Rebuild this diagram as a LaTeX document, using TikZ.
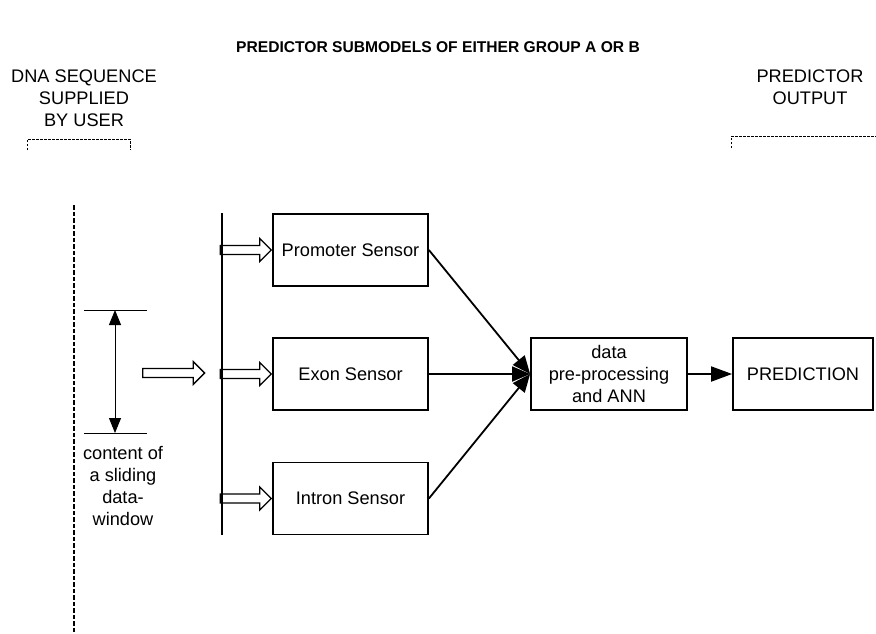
\documentclass[tikz,border=0pt]{standalone}
\usepackage{fontspec}
\setmainfont{Liberation Sans}
\usetikzlibrary{arrows.meta,shapes.arrows}

\begin{document}
\begin{tikzpicture}[x=1pt,y=-1pt,font=\fontsize{18.2}{22}\selectfont]
    \tikzstyle{block}=[draw,line width=1.8pt,minimum height=72pt,align=center,inner sep=0pt];
    \tikzstyle{label}=[align=center,inner sep=0pt];
    \tikzstyle{hollow}=[draw,line width=1.3pt,shape=single arrow,inner xsep=0pt,inner ysep=3.8pt,single arrow head extend=7pt,single arrow head indent=0pt];
    \tikzstyle{feed}=[line width=1.8pt,-{Triangle[length=18pt,width=15pt]}];
    \tikzstyle{bracket}=[line width=0.8pt,dash pattern=on 2.5pt off 1.5pt];
    \useasboundingbox (0,0) rectangle (876,633);

    \node[font=\fontsize{15.6}{19}\selectfont\bfseries] at (438,47) (title) {PREDICTOR SUBMODELS OF EITHER GROUP A OR B};
    \node[label] at (84,98) (input) {DNA SEQUENCE\\SUPPLIED\\BY USER};
    \node[label] at (810,87) (output) {PREDICTOR\\OUTPUT};
    \draw[bracket] (27,150) -- (27,139) -- (130,139) -- (130,150);
    \draw[bracket] (731,148) -- (731,136) -- (876,136);

    % sequence and window
    \draw[line width=2pt,dash pattern=on 4.5pt off 2pt] (74,205) -- (74,633);
    \coordinate (wtop) at (115,310);
    \coordinate (wbot) at (115,433);
    \draw[line width=0.9pt] (84,310) -- (147,310);
    \draw[line width=0.9pt] (84,433) -- (147,433);
    \draw[line width=0.9pt,{Triangle[length=15pt,width=12pt]}-{Triangle[length=15pt,width=12pt]}] (wtop) to (wbot);
    \node[label] at (123,486) (window) {content of\\a sliding\\data-\\window};
    \node[hollow,minimum height=62pt,anchor=tail] at (142,373) (shift) {};

    % sensors
    \coordinate (bustop) at (222,213);
    \coordinate (busbot) at (222,535);
    \draw[line width=1.5pt] (bustop) to (busbot);
    \node[block,minimum width=155pt] at (350.5,250) (prom) {Promoter Sensor};
    \node[block,minimum width=155pt] at (350.5,374) (exon) {Exon Sensor};
    \node[block,minimum width=155pt] at (350.5,498.5) (intron) {Intron Sensor};
    \node[hollow,minimum height=51pt,anchor=tip] at (prom.west) (inprom) {};
    \node[hollow,minimum height=51pt,anchor=tip] at (exon.west) (inexon) {};
    \node[hollow,minimum height=51pt,anchor=tip] at (intron.west) (inintron) {};

    \node[block,minimum width=156pt] at (609,374) (ann) {data\\pre-processing\\and ANN};
    \node[block,minimum width=140pt] at (803,374) (pred) {PREDICTION};

\draw[feed] (prom.east) to (ann.west);
\draw[feed] (exon.east) to (ann.west);
\draw[feed] (intron.east) to (ann.west);
\draw[line width=1.8pt,-{Triangle[length=21pt,width=15pt]}] (ann) to (pred);

\end{tikzpicture}
\end{document}
